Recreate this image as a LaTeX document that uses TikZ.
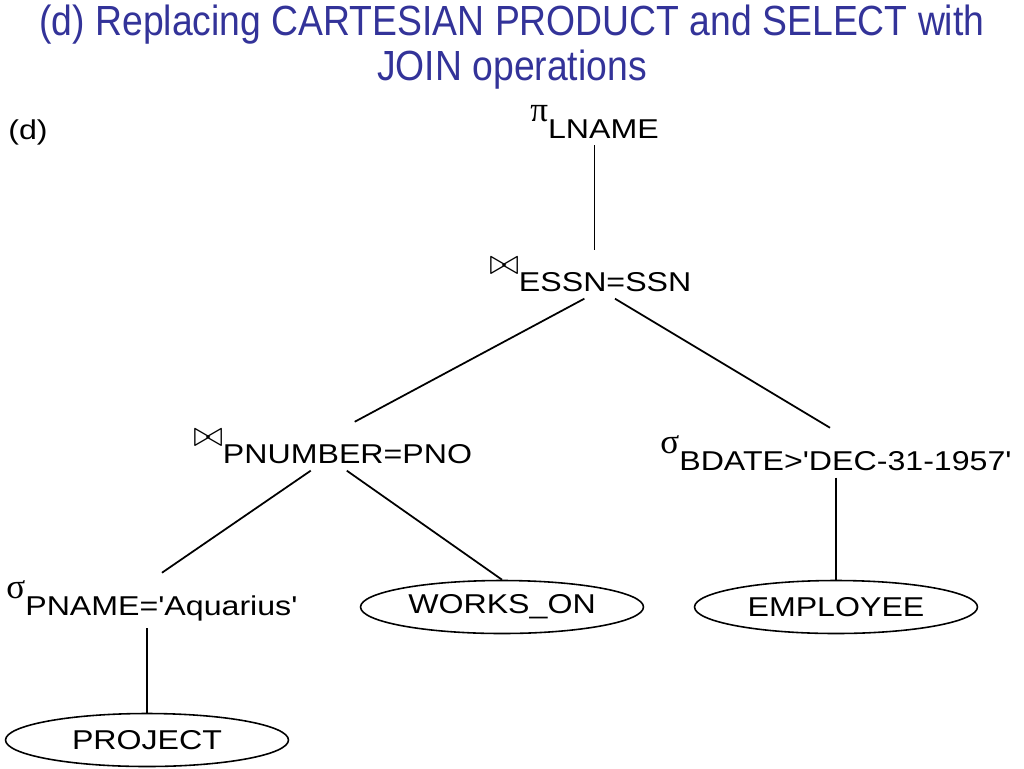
\documentclass[tikz,border=0pt]{standalone}
\usepackage{fontspec}
\setmainfont{Liberation Sans}
\newfontfamily\titlefont[FakeStretch=0.885]{Liberation Sans}
\newfontfamily\labelfont[FakeStretch=1.18]{Liberation Sans}
\newfontfamily\greekfont{Liberation Serif}
\usetikzlibrary{shapes.geometric}
\definecolor{titleblue}{RGB}{51,51,153}
% operator symbol raised in front of its condition
\newcommand{\opsym}[2]{\raisebox{0.62em}{#1}#2}
\newcommand{\symPi}{{\greekfont\fontsize{20}{20}\selectfont π}}
\newcommand{\symSigma}{{\greekfont\fontsize{20}{20}\selectfont σ}}
\newcommand{\symJoin}{{\fontsize{20}{20}\selectfont$\bowtie$}}
\tikzset{
  op/.style={font=\labelfont\fontsize{15.5}{17}\selectfont, inner sep=4pt, anchor=base west},
  rel/.style={ellipse, draw, line width=0.9pt, minimum width=5.66cm, minimum height=1.06cm,
    font=\labelfont\fontsize{15.5}{17}\selectfont, inner sep=0pt},
  edge/.style={line width=1pt}
}
\begin{document}
\begin{tikzpicture}[x=0.02cm, y=-0.02cm]

  \useasboundingbox (0,0) rectangle (1024,768);

  % 1. Title
  \node[anchor=north, align=center, text=titleblue, inner sep=0pt,
    font=\titlefont\fontsize{24}{25.5}\selectfont] (title) at (512,5)
    {(d) Replacing CARTESIAN PRODUCT and SELECT with\\JOIN operations};
  \node[op] (tag) at (1,139) {(d)};

  % 2. Operators
  \node[op] (proj)  at (523,138) {\opsym{\symPi}{LNAME}};
  \node[op] (join1) at (482,291) {\opsym{\symJoin}{ESSN=SSN}};
  \node[op] (join2) at (186,463) {\opsym{\symJoin}{PNUMBER=PNO}};
  \node[op] (selB)  at (653,470) {\opsym{\symSigma}{BDATE>'DEC-31-1957'}};
  \node[op] (selP)  at (-1,615)  {\opsym{\symSigma}{PNAME='Aquarius'}};

  % 3. Relations
  \node[rel] (works)   at (502,607) {WORKS\_ON};
  \node[rel] (emp)     at (836,607) {EMPLOYEE};
  \node[rel] (project) at (147,740) {PROJECT};

  % 4. Edges
  \draw[edge] (proj.south) -- (proj.south |- join1.north);
  \draw[edge] ([xshift=-3.4pt]join1.south) -- ([xshift=12.5pt]join2.north);
  \draw[edge] ([xshift=14pt]join1.south) -- ([xshift=-3.4pt]selB.north);
  \draw[edge] ([xshift=-12.5pt]join2.south) -- ([xshift=5.7pt]selP.north);
  \draw[edge] ([xshift=8pt]join2.south) -- (works.north);
  \draw[edge] (selB.south -| emp.north) -- (emp.north);
  \draw[edge] (selP.south -| project.north) -- (project.north);

\end{tikzpicture}
\end{document}
